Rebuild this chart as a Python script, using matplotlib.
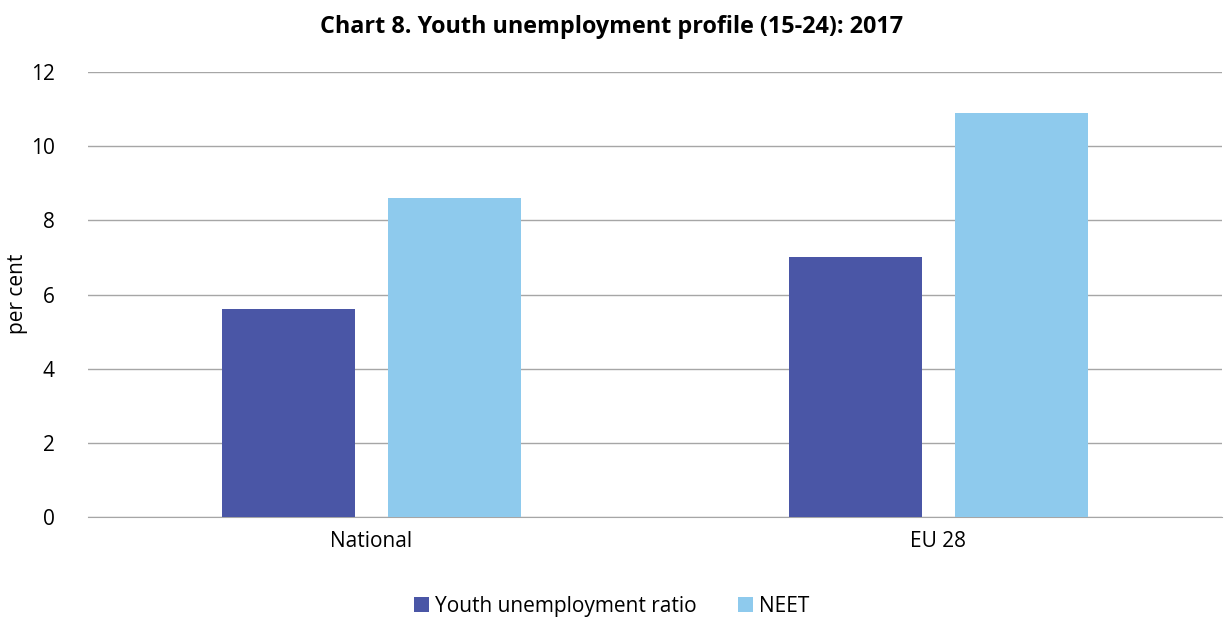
import numpy as np
import matplotlib.pyplot as plt

plt.rcParams["font.family"] = ["Open Sans", "DejaVu Sans"]

categories = ["National", "EU 28"]
youth_ratio = [5.6, 7.0]
neet = [8.6, 10.9]
series_names = ["Youth unemployment ratio", "NEET"]
colors = ["#4A56A6", "#8ECAED"]

fig = plt.figure(figsize=(12.24, 6.17), dpi=100)
ax = fig.add_axes([88 / 1224, 1 - 517 / 617, (1222 - 88) / 1224, (517 - 72) / 617])

x = np.arange(len(categories))
w = 0.235
gap = 0.058
ax.bar(x - (w + gap) / 2, youth_ratio, width=w, color=colors[0], label=series_names[0], zorder=3)
ax.bar(x + (w + gap) / 2, neet, width=w, color=colors[1], label=series_names[1], zorder=3)

ax.set_xlim(-0.5, 1.5)
ax.set_ylim(0, 12)
ax.set_yticks(range(0, 13, 2))
ax.set_xticks(x)
ax.set_xticklabels(categories, fontsize=15)
ax.tick_params(axis="y", labelsize=15, length=0, pad=24)
ax.tick_params(axis="x", length=0, pad=10)
ax.grid(axis="y", color="#A6A6A6", linewidth=1, zorder=0)
for s in ["top", "right", "left"]:
    ax.spines[s].set_visible(False)
ax.spines["bottom"].set_color("#A6A6A6")

fig.text(18 / 1224, 1 - 294 / 617, "per cent", rotation=90, fontsize=15,
         ha="center", va="center")

fig.suptitle("Chart 8. Youth unemployment profile (15-24): 2017",
             fontsize=16.8, fontweight="bold", y=0.975)
fig.legend(loc="lower center", bbox_to_anchor=(0.5, -0.03), ncol=2, frameon=False,
           fontsize=15, handlelength=0.7, handleheight=0.7, handletextpad=0.3,
           columnspacing=2.0)

fig.savefig("out.png", dpi=100)
